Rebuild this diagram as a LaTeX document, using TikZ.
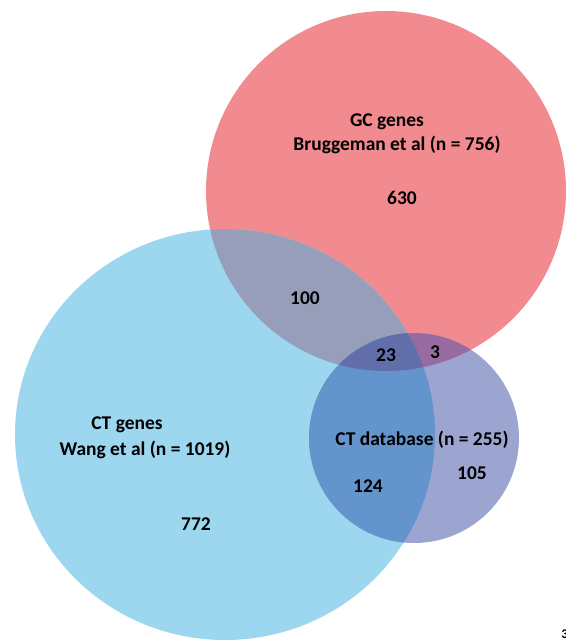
\documentclass[tikz,border=0pt]{standalone}
\usepackage{fontspec}
\setmainfont{Carlito}
\definecolor{cR}{RGB}{242,139,143}
\definecolor{cB}{RGB}{157,214,239}
\definecolor{cP}{RGB}{155,165,208}
\definecolor{cRB}{RGB}{151,158,185}
\definecolor{cRP}{RGB}{152,108,160}
\definecolor{cBP}{RGB}{99,148,203}
\definecolor{cRBP}{RGB}{98,110,170}
\tikzset{lbl/.style={font=\fontsize{14.6}{17}\selectfont\bfseries, text=black, inner sep=0pt, align=center}}
\begin{document}
\begin{tikzpicture}[x=0.75pt,y=-0.75pt]
\useasboundingbox (0,0) rectangle (566,643);
\def\redC{(386,191) circle [radius=180]}
\def\bluC{(225,434.5) ellipse [x radius=210, y radius=205.5]}
\def\purC{(414,438) circle [radius=105]}
\fill[cR] \redC;
\fill[cB] \bluC;
\fill[cP] \purC;
\begin{scope}\clip \redC; \fill[cRB] \bluC; \end{scope}
\begin{scope}\clip \redC; \fill[cRP] \purC; \end{scope}
\begin{scope}\clip \bluC; \fill[cBP] \purC; \end{scope}
\begin{scope}\clip \redC; \clip \bluC; \fill[cRBP] \purC; \end{scope}
\node[lbl] (gc) at (387,122) {GC genes};
\node[lbl] (gcref) at (397,145) {Bruggeman et al (n = 756)};
\node[lbl] (n630) at (402,198) {630};
\node[lbl] (n100) at (305,298) {100};
\node[lbl] (n23) at (386,355) {23};
\node[lbl] (n3) at (435,352) {3};
\node[lbl] (ctdb) at (422,440) {CT database (n = 255)};
\node[lbl] (n105) at (472,473) {105};
\node[lbl] (n124) at (368,486) {124};
\node[lbl] (ct) at (127,425) {CT genes};
\node[lbl] (ctref) at (145,450) {Wang et al (n = 1019)};
\node[lbl] (n772) at (196,524) {772};
\node[font=\fontsize{10}{12}\selectfont\bfseries, inner sep=0pt, anchor=west] (pg) at (561,634) {3};
\end{tikzpicture}
\end{document}
